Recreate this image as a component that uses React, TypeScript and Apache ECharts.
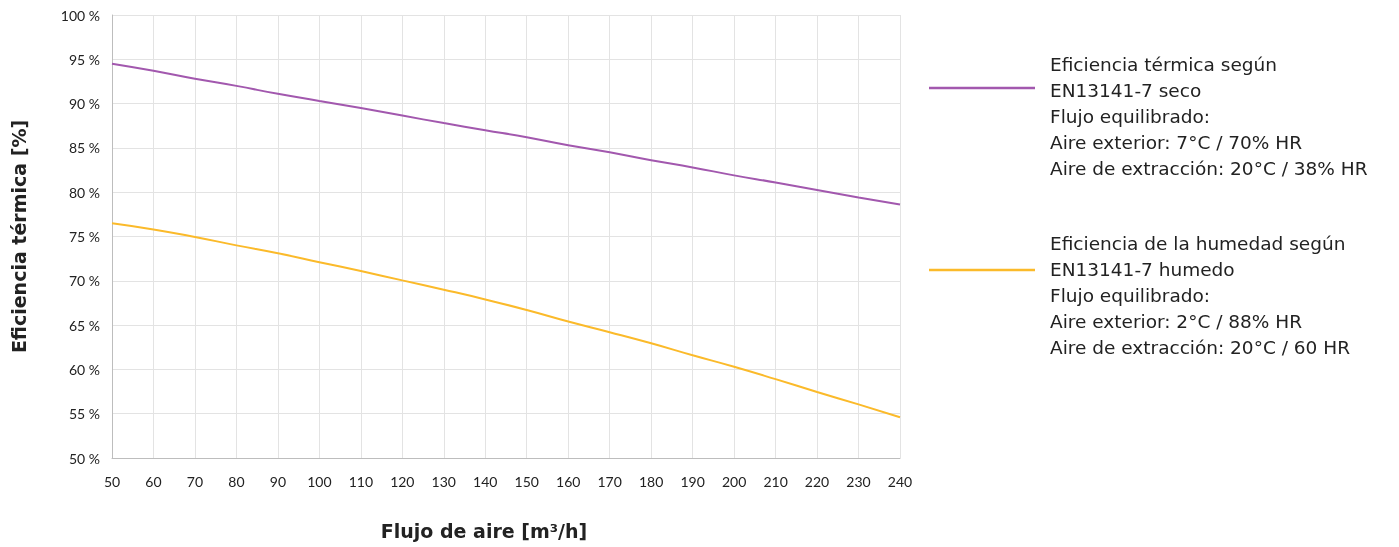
import React, { useEffect, useRef } from "react";
import * as echarts from "echarts";

const flowCategories = [50, 60, 70, 80, 90, 100, 110, 120, 130, 140, 150, 160, 170, 180, 190, 200, 210, 220, 230, 240];
const thermalEfficiency = [94.5, 93.7, 92.8, 92.0, 91.1, 90.3, 89.5, 88.65, 87.8, 87.0, 86.2, 85.3, 84.5, 83.6, 82.8, 81.9, 81.1, 80.25, 79.4, 78.6];
const humidityEfficiency = [76.5, 75.8, 74.95, 74.0, 73.1, 72.1, 71.1, 70.05, 69.0, 67.9, 66.7, 65.4, 64.2, 62.95, 61.6, 60.3, 58.9, 57.45, 56.05, 54.6];

const seriesNames = ["Eficiencia térmica seco", "Eficiencia humedad humedo"];
const legendTexts = [
  ["Eficiencia térmica según", "EN13141-7 seco", "Flujo equilibrado:", "Aire exterior: 7°C / 70% HR", "Aire de extracción: 20°C / 38% HR"],
  ["Eficiencia de la humedad según", "EN13141-7 humedo", "Flujo equilibrado:", "Aire exterior: 2°C / 88% HR", "Aire de extracción: 20°C / 60 HR"],
];
const colors = ["#A258AE", "#FBBA2A"];

export default function App() {
  const ref = useRef<HTMLDivElement>(null);
  useEffect(() => {
    if (!ref.current) return;
    const chart = echarts.init(ref.current, undefined, { renderer: "svg" });
    const tickFont = "Lato, 'Noto Sans', sans-serif";
    const textFont = "'DejaVu Sans', 'Open Sans', sans-serif";
    const legendGraphics: any[] = [];
    const legendTops = [64, 243];
    const lineYs = [88, 270];
    legendTexts.forEach((lines, i) => {
      legendGraphics.push({
        type: "line",
        shape: { x1: 929, y1: lineYs[i], x2: 1035, y2: lineYs[i] },
        style: { stroke: colors[i], lineWidth: 2.5 },
      });
      lines.forEach((t, j) => {
        legendGraphics.push({
          type: "text",
          x: 1050,
          y: legendTops[i] + j * 26.2,
          style: { text: t, fill: "#222", fontSize: 18.5, fontFamily: textFont, verticalAlign: "middle" },
        });
      });
    });
    chart.setOption({
      animation: false,
      textStyle: { fontFamily: tickFont },
      grid: { left: 112, right: 499, top: 15, bottom: 89, containLabel: false },
      xAxis: {
        type: "value",
        min: 50,
        max: 240,
        interval: 10,
        name: "Flujo de aire [m³/h]",
        nameLocation: "middle",
        nameGap: 63,
        nameTextStyle: { fontSize: 19, fontWeight: "bold", color: "#222", fontFamily: textFont, padding: [0, 44, 0, 0] },
        axisLine: { lineStyle: { color: "#bdbdbd", width: 1 } },
        axisTick: { show: false },
        axisLabel: { fontSize: 14, color: "#222", margin: 16, fontFamily: tickFont },
        splitLine: { show: true, lineStyle: { color: "#e3e3e3", width: 1 } },
      },
      yAxis: {
        type: "value",
        min: 50,
        max: 100,
        interval: 5,
        name: "Eficiencia térmica [%]",
        nameLocation: "middle",
        nameGap: 84,
        nameTextStyle: { fontSize: 19, fontWeight: "bold", color: "#222", fontFamily: textFont },
        axisLine: { show: true, lineStyle: { color: "#bdbdbd", width: 1 } },
        axisTick: { show: false },
        axisLabel: { fontSize: 14, color: "#222", margin: 12, formatter: "{value} %", fontFamily: tickFont },
        splitLine: { show: true, lineStyle: { color: "#e3e3e3", width: 1 } },
      },
      series: [
        {
          name: seriesNames[0],
          type: "line",
          data: flowCategories.map((x, i) => [x, thermalEfficiency[i]]),
          smooth: true,
          showSymbol: false,
          lineStyle: { color: colors[0], width: 2 },
          itemStyle: { color: colors[0] },
        },
        {
          name: seriesNames[1],
          type: "line",
          data: flowCategories.map((x, i) => [x, humidityEfficiency[i]]),
          smooth: true,
          showSymbol: false,
          lineStyle: { color: colors[1], width: 2 },
          itemStyle: { color: colors[1] },
        },
      ],
      graphic: legendGraphics,
    });
    return () => chart.dispose();
  }, []);
  return <div ref={ref} style={{ position: "fixed", left: 0, top: 0, width: 1399, height: 547 }} />;
}
